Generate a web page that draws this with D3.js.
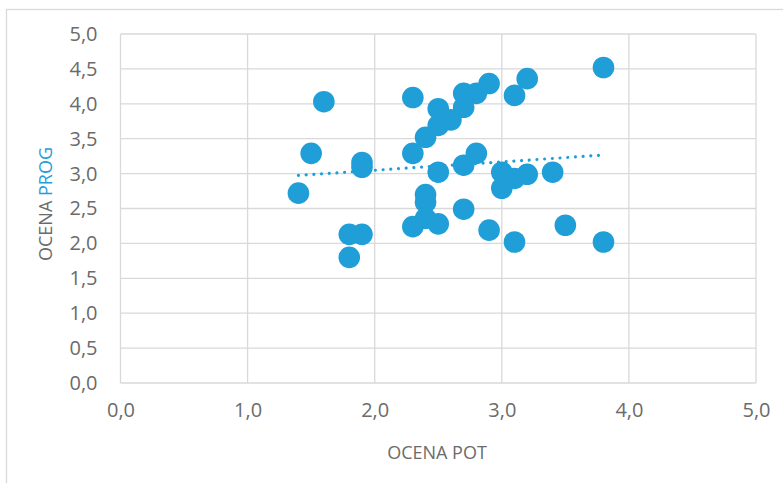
<!DOCTYPE html>
<html><head><meta charset="utf-8">
<script src="https://cdn.jsdelivr.net/npm/d3@7"></script>
<style>body{margin:0;background:#fff}svg{display:block}</style>
</head><body>
<svg id="c" width="783" height="483"></svg>
<script>
const pot = [3.8, 3.2, 3.1, 2.9, 2.8, 2.7, 2.7, 2.6, 2.5, 2.5, 2.4, 2.3, 2.3, 1.6, 1.5, 1.9, 1.9, 1.4, 1.8, 1.9, 1.8, 2.5, 2.7, 2.8, 3.0, 3.1, 3.2, 3.0, 3.4, 2.4, 2.4, 2.4, 2.3, 2.5, 2.7, 2.9, 3.1, 3.5, 3.8];
const prog = [4.52, 4.36, 4.12, 4.29, 4.15, 4.15, 3.95, 3.77, 3.93, 3.69, 3.52, 4.09, 3.29, 4.03, 3.29, 3.16, 3.09, 2.72, 2.13, 2.13, 1.80, 3.02, 3.12, 3.29, 3.02, 2.93, 2.99, 2.79, 3.02, 2.70, 2.59, 2.36, 2.24, 2.28, 2.49, 2.19, 2.02, 2.26, 2.02];
const trendX = [1.4, 3.8];
const trendY = [2.975, 3.265];
const xTicks = [0, 1, 2, 3, 4, 5];
const yTicks = [0, 0.5, 1, 1.5, 2, 2.5, 3, 3.5, 4, 4.5, 5];
const xTitle = "OCENA POT";
const yTitleParts = ["OCENA ", "PROG"];

const blue = "#1f9ed8", grid = "#d9d9d9", txt = "#6b6b6b";
const font = "'Open Sans', 'Noto Sans', sans-serif";
const svg = d3.select("#c");
const x = d3.scaleLinear().domain([0, 5]).range([120.5, 756]);
const y = d3.scaleLinear().domain([0, 5]).range([383, 34]);
const fmt = v => d3.format(".1f")(v).replace(".", ",");

// outer chart frame
svg.append("rect").attr("x", 6.5).attr("y", 9.5).attr("width", 800).attr("height", 500)
  .attr("fill", "none").attr("stroke", grid).attr("stroke-width", 1.3);

// gridlines
svg.append("g").selectAll("line").data(yTicks).join("line")
  .attr("x1", x(0)).attr("x2", x(5)).attr("y1", d => y(d)).attr("y2", d => y(d))
  .attr("stroke", grid).attr("stroke-width", 1.3);
svg.append("g").selectAll("line").data(xTicks).join("line")
  .attr("y1", y(0)).attr("y2", y(5)).attr("x1", d => x(d)).attr("x2", d => x(d))
  .attr("stroke", grid).attr("stroke-width", 1.3);

// axes labels via d3 axes
const xAxis = svg.append("g").attr("transform", `translate(0,${y(0)})`)
  .call(d3.axisBottom(x).tickValues(xTicks).tickFormat(fmt).tickSize(0).tickPadding(20));
const yAxis = svg.append("g").attr("transform", `translate(${x(0)},0)`)
  .call(d3.axisLeft(y).tickValues(yTicks).tickFormat(fmt).tickSize(0).tickPadding(23));
[xAxis, yAxis].forEach(a => {
  a.select(".domain").remove();
  a.selectAll("text").attr("fill", txt).style("font-family", font).style("font-size", "20px");
});

// titles
svg.append("text").attr("x", 437).attr("y", 452).attr("text-anchor", "middle")
  .attr("dominant-baseline", "central").attr("fill", txt)
  .style("font-family", font).style("font-size", "18px").text(xTitle);
const yt = svg.append("text").attr("transform", "translate(45,204) rotate(-90)")
  .attr("text-anchor", "middle").attr("dominant-baseline", "central")
  .style("font-family", font).style("font-size", "18px");
yt.append("tspan").attr("fill", txt).text(yTitleParts[0]);
yt.append("tspan").attr("fill", blue).text(yTitleParts[1]);

// points
svg.append("g").selectAll("circle").data(pot.map((p, i) => [p, prog[i]])).join("circle")
  .attr("cx", d => x(d[0])).attr("cy", d => y(d[1])).attr("r", 10.8)
  .attr("fill", blue);

// linear trendline
svg.append("path").datum(trendX.map((t, i) => [t, trendY[i]]))
  .attr("d", d3.line().x(d => x(d[0])).y(d => y(d[1])))
  .attr("fill", "none")
  .attr("stroke", blue).attr("stroke-width", 3.2).attr("stroke-linecap", "round")
  .attr("stroke-dasharray", "0.01 7.7");
</script>
</body></html>
